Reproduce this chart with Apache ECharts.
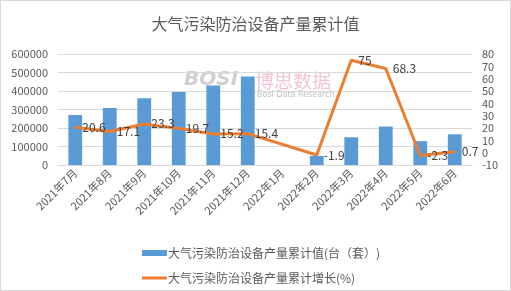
<!DOCTYPE html>
<html>
<head>
<meta charset="utf-8">
<script src="https://cdn.jsdelivr.net/npm/echarts@6/dist/echarts.min.js"></script>
<style>
  html, body { margin: 0; padding: 0; background: #fff; }
  #chart { width: 509px; height: 289px; border: 1px solid #d9d9d9; }
</style>
</head>
<body>
<div id="chart"></div>
<script>
const months = ['2021年7月', '2021年8月', '2021年9月', '2021年10月', '2021年11月', '2021年12月',
  '2022年1月', '2022年2月', '2022年3月', '2022年4月', '2022年5月', '2022年6月']
const output = [270000, 308000, 361000, 394000, 430000, 479000, null, 49000, 150000, 208000, 129000, 166000]
const growth = [20.6, 17.1, 23.3, 19.7, 15.2, 15.4, null, -1.9, 75, 68.3, -2.3, 0.7]

const barName = '大气污染防治设备产量累计值(台（套）)'
const lineName = '大气污染防治设备产量累计增长(%)'

const font = '"Noto Sans CJK SC", "Microsoft YaHei", sans-serif'
const textColor = '#595959'

const chart = echarts.init(document.getElementById('chart'))

chart.setOption({
  animation: false,
  textStyle: { fontFamily: font },
  title: {
    text: '大气污染防治设备产量累计值',
    left: 'center',
    top: 10,
    textStyle: { fontSize: 16, fontWeight: 'normal', color: textColor, fontFamily: font }
  },
  graphic: [
    { type: 'text', left: 183, top: 69, style: { text: 'BOSI', font: 'italic bold 20px "DejaVu Sans"', fill: 'rgba(150,150,150,0.45)' } },
    { type: 'text', left: 254, top: 70, style: { text: '博思数据', font: '19px "Noto Sans CJK SC"', fill: 'rgba(230,150,170,0.55)' } },
    { type: 'text', left: 256, top: 90, style: { text: 'Bosi Data Research', font: '8px "DejaVu Sans"', fill: 'rgba(150,150,150,0.6)' } }
  ],
  legend: [
    {
      data: [barName],
      orient: 'vertical',
      left: 136,
      top: 241,
      icon: 'rect',
      itemWidth: 25,
      itemHeight: 6,
      textStyle: { fontSize: 12, color: textColor, padding: [0, 0, 0, -4] }
    },
    {
      data: [lineName],
      orient: 'vertical',
      left: 136,
      top: 266,
      icon: 'rect',
      itemWidth: 25,
      itemHeight: 3,
      textStyle: { fontSize: 12, color: textColor, padding: [0, 0, 0, -4] }
    }
  ],
  grid: { left: 57, right: 38, top: 53, bottom: 125 },
  xAxis: {
    type: 'category',
    data: months,
    axisLine: { lineStyle: { color: '#d9d9d9' } },
    axisTick: { length: 5, lineStyle: { color: '#d9d9d9' } },
    axisLabel: { rotate: 45, fontSize: 11, color: textColor, margin: 6, interval: 0 }
  },
  yAxis: [
    {
      type: 'value',
      min: 0,
      max: 600000,
      interval: 100000,
      axisLine: { show: false },
      axisTick: { show: false },
      axisLabel: { fontSize: 11, color: textColor, margin: 10, formatter: v => String(v) },
      splitLine: { lineStyle: { color: '#d9d9d9' } }
    },
    {
      type: 'value',
      min: -10,
      max: 80,
      interval: 10,
      axisLine: { show: false },
      axisTick: { show: false },
      axisLabel: { fontSize: 11, color: textColor, margin: 10 },
      splitLine: { show: false }
    }
  ],
  series: [
    {
      name: barName,
      type: 'bar',
      data: output,
      barWidth: '40%',
      itemStyle: { color: '#5b9bd5' }
    },
    {
      name: lineName,
      type: 'line',
      yAxisIndex: 1,
      data: growth,
      connectNulls: true,
      symbol: 'circle',
      symbolSize: 2,
      showSymbol: true,
      lineStyle: { color: '#ed7d31', width: 3 },
      itemStyle: { color: '#ed7d31' },
      label: { show: true, position: 'right', fontSize: 12, color: '#404040', distance: 6 }
    }
  ]
})
</script>
</body>
</html>
